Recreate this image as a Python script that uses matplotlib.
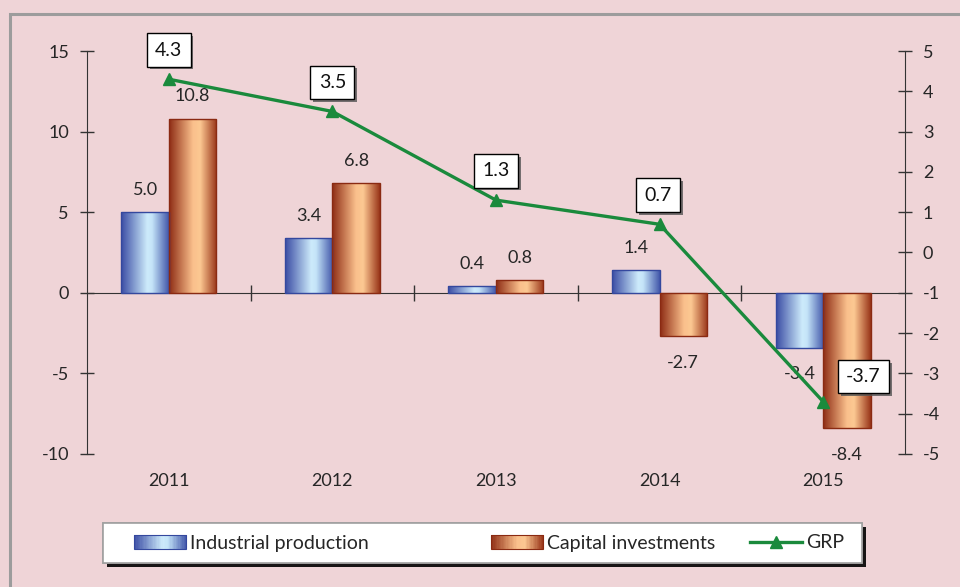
import numpy as np
import matplotlib
matplotlib.use("Agg")
import matplotlib.pyplot as plt
from matplotlib.colors import LinearSegmentedColormap
from matplotlib.patches import Rectangle
from matplotlib.lines import Line2D
from matplotlib.legend_handler import HandlerBase
import matplotlib.patheffects as pe

plt.rcParams['font.family'] = ['Lato', 'DejaVu Sans']
plt.rcParams['axes.unicode_minus'] = False

years = ['2011', '2012', '2013', '2014', '2015']
industrial = [5.0, 3.4, 0.4, 1.4, -3.4]
capital = [10.8, 6.8, 0.8, -2.7, -8.4]
grp = [4.3, 3.5, 1.3, 0.7, -3.7]

bg = '#EFD4D7'
txt = '#262626'
green = '#1A8A3C'

blue_cmap = LinearSegmentedColormap.from_list(
    'blue', [(0, '#3A4CA4'), (0.55, '#CDEBFB'), (0.65, '#C4E4F8'), (1, '#4257AA')])
orange_cmap = LinearSegmentedColormap.from_list(
    'orange', [(0, '#8E2C14'), (0.5, '#FAC08C'), (0.65, '#FCC892'), (1, '#983418')])


def gradient_fill(ax, patch, cmap):
    # fill one bar with a horizontal gradient, clipped to the bar
    x, y = patch.get_x(), patch.get_y()
    w, h = patch.get_width(), patch.get_height()
    grad = np.linspace(0, 1, 256).reshape(1, -1)
    im = ax.imshow(grad, cmap=cmap, extent=(x, x + w, y, y + h),
                   aspect='auto', origin='lower', zorder=2, interpolation='bilinear')
    im.set_clip_path(patch)


class HandlerGradient(HandlerBase):
    def __init__(self, cmap, edge):
        super().__init__()
        self.cmap = cmap
        self.edge = edge

    def create_artists(self, legend, orig_handle, xdescent, ydescent,
                       width, height, fontsize, trans):
        n = 40
        arts = []
        for i in range(n):
            r = Rectangle((-xdescent + i * width / n, -ydescent), width / n + 0.3, height,
                          facecolor=self.cmap((i + 0.5) / n), lw=0, transform=trans)
            arts.append(r)
        arts.append(Rectangle((-xdescent, -ydescent), width, height, facecolor='none',
                              edgecolor=self.edge, lw=0.8, transform=trans))
        return arts


fig = plt.figure(figsize=(9.6, 5.87), dpi=100, facecolor=bg)
ax = fig.add_axes([0.0906, 0.2266, 0.852, 0.6865])
ax.set_facecolor(bg)

x = np.arange(len(years))
w = 0.29
b1 = ax.bar(x - w / 2, industrial, w, facecolor='none', edgecolor='#34489E', lw=1, zorder=3)
b2 = ax.bar(x + w / 2, capital, w, facecolor='none', edgecolor='#8A2A12', lw=1, zorder=3)
for p in b1:
    gradient_fill(ax, p, blue_cmap)
for p in b2:
    gradient_fill(ax, p, orange_cmap)

for bars, vals in ((b1, industrial), (b2, capital)):
    for p, v in zip(bars, vals):
        off = 16 if v >= 0 else -19
        ax.annotate(f'{v:.1f}', (p.get_x() + p.get_width() / 2, v), xytext=(0, off),
                    textcoords='offset points', ha='center', va='center',
                    fontsize=13, color=txt, zorder=6)

ax.set_xlim(-0.5, len(years) - 0.5)
ax.set_ylim(-10, 15)
ax.set_yticks(np.arange(-10, 16, 5))
ax.set_xticks(x[:-1] + 0.5)
ax.set_xticklabels([])
for s in ('top', 'right'):
    ax.spines[s].set_visible(False)
ax.spines['bottom'].set_position(('data', 0))
ax.spines['bottom'].set_color('#333333')
ax.spines['bottom'].set_zorder(1)
ax.spines['left'].set_color('#333333')
ax.tick_params(axis='x', direction='inout', length=12, width=1, color='#333333')
ax.tick_params(axis='y', direction='inout', length=10, width=1, color='#333333',
               labelsize=13, labelcolor=txt, pad=8)
for xi, yr in zip(x, years):
    ax.text(xi, -0.068, yr, transform=ax.get_xaxis_transform(), ha='center', va='center',
            fontsize=13, color=txt)

ax2 = ax.twinx()
ax2.set_ylim(-5, 5)
ax2.set_yticks(np.arange(-5, 6, 1))
for s in ('top', 'left', 'bottom'):
    ax2.spines[s].set_visible(False)
ax2.spines['right'].set_color('#333333')
ax2.tick_params(axis='y', direction='inout', length=10, width=1, color='#333333',
                labelsize=13, labelcolor=txt, pad=8)
ax2.plot(x, grp, color=green, lw=2.4, marker='^', markersize=9, zorder=5)

grp_offsets = [(0, 21), (0, 21), (0, 21), (-1, 21), (29, 18)]
for xi, v, off in zip(x, grp, grp_offsets):
    t = ax2.annotate(f'{v:.1f}', (xi, v), xytext=off, textcoords='offset points',
                     ha='center', va='center', fontsize=14, color='#111111', zorder=7,
                     bbox=dict(boxstyle='square,pad=0.42', fc='white', ec='black', lw=1))
    t.get_bbox_patch().set_path_effects(
        [pe.withSimplePatchShadow(offset=(2, -2), shadow_rgbFace='#555555', alpha=0.8)])

# outer frame
fig.patches.append(Rectangle((10 / 960, -0.1), 1.2, 1 - 14 / 587 + 0.1, transform=fig.transFigure,
                             facecolor='none', edgecolor='#9C9C9C', lw=2.2))

# legend box
lb = Rectangle((103 / 960, 1 - 563 / 587), (862 - 103) / 960, 40 / 587, transform=fig.transFigure,
               facecolor='white', edgecolor='#A0A0A0', lw=1.2, zorder=5)
lb.set_path_effects([pe.withSimplePatchShadow(offset=(3, -3), shadow_rgbFace='black', alpha=0.9),
                     pe.Normal()])
fig.patches.append(lb)

h_ind = Rectangle((0, 0), 1, 1)
h_cap = Rectangle((0, 0), 1, 1)
h_grp = Line2D([], [], color=green, lw=2.4, marker='^', markersize=8)
leg_items = [
    (h_ind, 'Industrial production', 124, HandlerGradient(blue_cmap, '#34489E')),
    (h_cap, 'Capital investments', 481, HandlerGradient(orange_cmap, '#8A2A12')),
    (h_grp, 'GRP', 740, None),
]
for handle, label, px, handler in leg_items:
    hm = {handle: handler} if handler else None
    lg = fig.legend([handle], [label], loc='center left',
                    bbox_to_anchor=(px / 960, 1 - 543 / 587), frameon=False,
                    fontsize=14, handlelength=2.7, handleheight=0.7, handletextpad=0.2,
                    borderpad=0, handler_map=hm)
    lg.set_zorder(6)
    for t in lg.get_texts():
        t.set_color(txt)

fig.savefig('out.png', dpi=100, facecolor=bg)
